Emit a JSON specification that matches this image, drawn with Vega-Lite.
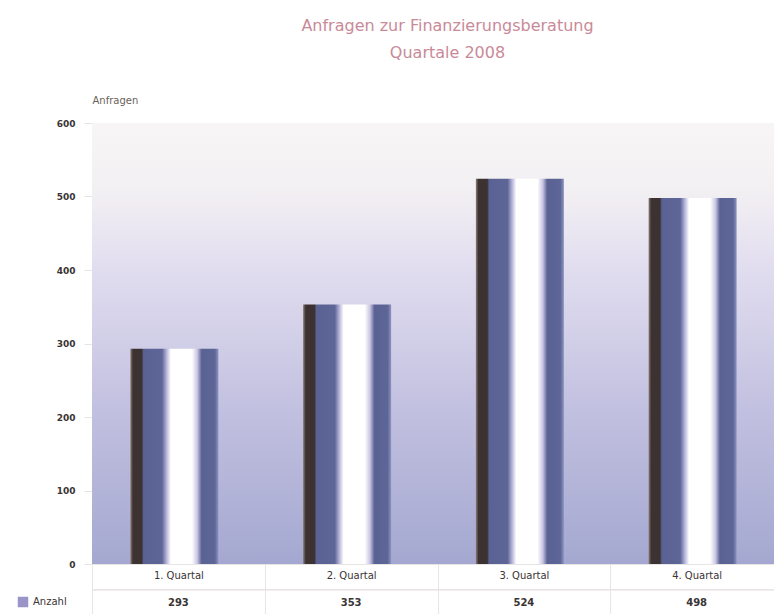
{
  "$schema": "https://vega.github.io/schema/vega-lite/v6.json",
  "width": 691,
  "height": 441,
  "autosize": {"type": "none"},
  "padding": {"left": 92, "top": 123, "right": 0, "bottom": 50},
  "background": "white",
  "title": {
    "text": ["Anfragen zur Finanzierungsberatung", "Quartale 2008"],
    "color": "#c98a98",
    "font": "DejaVu Sans",
    "fontSize": 16,
    "fontWeight": "normal",
    "lineHeight": 27,
    "anchor": "middle",
    "offset": 34,
    "dx": 10
  },
  "data": {
    "values": [
      {"quartal": "1. Quartal", "value": 293, "series": "Anzahl"},
      {"quartal": "2. Quartal", "value": 353, "series": "Anzahl"},
      {"quartal": "3. Quartal", "value": 524, "series": "Anzahl"},
      {"quartal": "4. Quartal", "value": 498, "series": "Anzahl"}
    ]
  },
  "encoding": {
    "x": {
      "field": "quartal",
      "type": "nominal",
      "sort": null,
      "scale": {"paddingInner": 0, "paddingOuter": 0},
      "axis": {
        "title": null,
        "labelAngle": 0,
        "labelFont": "DejaVu Sans",
        "labelFontSize": 10,
        "labelColor": "#3a3434",
        "tickBand": "extent",
        "tickSize": 50,
        "tickColor": "#e9e5e5",
        "labelPadding": -44,
        "domainColor": "#e9e5e5"
      }
    }
  },
  "layer": [
    {
      "mark": {
        "type": "rect",
        "color": {
          "gradient": "linear",
          "x1": 0, "y1": 0, "x2": 0, "y2": 1,
          "stops": [
            {"offset": 0, "color": "#f7f5f5"},
            {"offset": 0.15, "color": "#f3f0f3"},
            {"offset": 0.32, "color": "#e2def0"},
            {"offset": 0.65, "color": "#c2c0e0"},
            {"offset": 1, "color": "#a4a8d0"}
          ]
        }
      },
      "encoding": {
        "x": null,
        "y": {"datum": 600, "type": "quantitative"},
        "y2": {"datum": 0}
      }
    },
    {
      "mark": {
        "type": "bar",
        "size": 88,
        "xOffset": -4,
        "color": {
          "gradient": "linear",
          "x1": 0, "y1": 0, "x2": 1, "y2": 0,
          "stops": [
            {"offset": 0, "color": "#8a7c74"},
            {"offset": 0.03, "color": "#3c3232"},
            {"offset": 0.13, "color": "#3c3232"},
            {"offset": 0.15, "color": "#5a6294"},
            {"offset": 0.36, "color": "#5e6698"},
            {"offset": 0.41, "color": "#b4b2d8"},
            {"offset": 0.46, "color": "#ffffff"},
            {"offset": 0.7, "color": "#ffffff"},
            {"offset": 0.76, "color": "#cac6e2"},
            {"offset": 0.81, "color": "#5a6294"},
            {"offset": 0.96, "color": "#5e6698"},
            {"offset": 1, "color": "#8c94c0"}
          ]
        }
      },
      "encoding": {
        "y": {
          "field": "value",
          "type": "quantitative",
          "scale": {"domain": [0, 600]},
          "axis": {
            "values": [0, 100, 200, 300, 400, 500, 600],
            "title": "Anfragen",
            "titleAngle": 0,
            "titleX": 0,
            "titleY": -23,
            "titleAlign": "left",
            "titleBaseline": "middle",
            "titleFont": "DejaVu Sans",
            "titleFontSize": 10,
            "titleFontWeight": "normal",
            "titleColor": "#6a5f5a",
            "labelFont": "DejaVu Sans",
            "labelFontSize": 9,
            "labelFontWeight": "bold",
            "labelColor": "#3a3434",
            "tickSize": 8,
            "tickColor": "#e8e4e4",
            "labelPadding": 9,
            "domainColor": "#ece8e8",
            "grid": true,
            "gridColor": "#efecec",
            "gridOpacity": 0.7
          }
        }
      }
    },
    {
      "mark": {"type": "rule", "color": "#e9e5e5", "strokeWidth": 1},
      "encoding": {"x": null, "y": {"datum": -35, "type": "quantitative"}}
    },
    {
      "mark": {"type": "text", "font": "DejaVu Sans", "fontSize": 10, "fontWeight": "bold", "color": "#3a3434", "baseline": "middle"},
      "encoding": {
        "y": {"datum": -53, "type": "quantitative"},
        "text": {"field": "value", "type": "quantitative"}
      }
    },
    {
      "mark": {"type": "square", "opacity": 0},
      "encoding": {
        "y": {"datum": 0, "type": "quantitative"},
        "color": {
          "field": "series",
          "type": "nominal",
          "scale": {"range": ["#9a94c8"]},
          "legend": {
            "title": null,
            "orient": "none",
            "legendX": -75,
            "legendY": 473,
            "symbolType": "square",
            "symbolSize": 110,
            "symbolOpacity": 1,
            "labelFont": "DejaVu Sans",
            "labelFontSize": 10,
            "labelColor": "#3a3434"
          }
        }
      }
    }
  ]
}
